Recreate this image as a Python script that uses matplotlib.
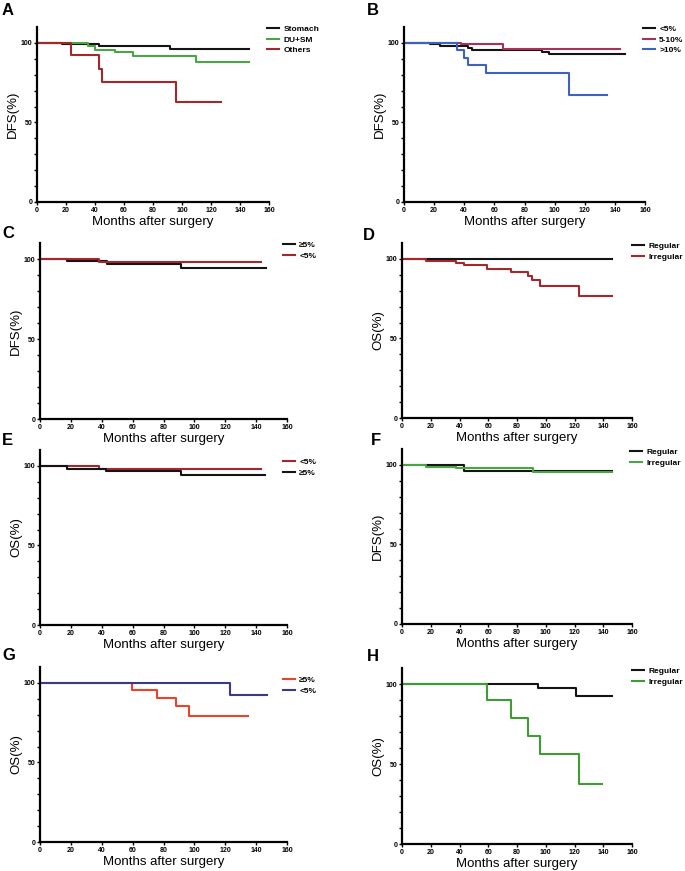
import numpy as np
from matplotlib import pyplot as plt

plt.rcParams['font.family'] = ['Liberation Sans', 'DejaVu Sans']

# ---- data (event times in months, survival % after each step, last follow-up) ----
# A: DFS by site
a_names = ['Stomach', 'DU+SM', 'Others']
a_times = [[17, 38, 43, 92], [35, 40, 54, 66, 109.5], [23.3, 42.7, 44.5, 95.7]]
a_surv = [[99.5, 99.0, 97.9, 96.2], [98.2, 95.8, 94.0, 91.6, 88.3], [92.5, 83.9, 75.7, 63.0]]
a_end = [146.5, 146.5, 127]

# B: DFS by proportion
b_names = ['<5%', '5-10%', '>10%']
b_times = [[17, 24, 42.7, 45, 91.4, 96], [38, 66], [35, 40, 42.7, 54.2, 109.8]]
b_surv = [[99.3, 97.9, 96.9, 95.6, 94.4, 92.9], [99.0, 96.2], [95.4, 90.6, 86.2, 81.2, 67.4]]
b_end = [146.7, 143.4, 135]

# C: DFS by Ki-67
c_names = ['≥5%', '<5%']
c_times = [[17.3, 43.2, 91.5], [38.3]]
c_surv = [[98.5, 96.9, 94.4], [98.3]]
c_end = [146.4, 143.4]

# D: OS by margin
d_names = ['Regular', 'Irregular']
d_times = [[], [16.9, 37.7, 43.2, 59, 75.6, 87.4, 90.6, 96, 123.2]]
d_surv = [[], [98.9, 97.7, 96.0, 93.9, 91.8, 89.3, 86.8, 83.1, 76.8]]
d_end = [146, 146]

# E: OS by Ki-67
e_names = ['<5%', '≥5%']
e_times = [[38], [17.3, 43, 91.2]]
e_surv = [[98.3], [98.3, 96.7, 94.6]]
e_end = [143, 146]

# F: DFS by margin
f_names = ['Regular', 'Irregular']
f_times = [[43.2], [17, 37.5, 91.3]]
f_surv = [[96.2], [99.0, 98.2, 95.8]]
f_end = [146, 146]

# G: OS by Ki-67
g_names = ['≥5%', '<5%']
g_times = [[59.5, 75.7, 88, 96.6], [123.2]]
g_surv = [[95.8, 90.8, 85.6, 79.1], [92.3]]
g_end = [135, 147]

# H: OS by margin
h_names = ['Regular', 'Irregular']
h_times = [[94.3, 120.7], [59, 75.6, 87.9, 96, 122.8]]
h_surv = [[97.7, 92.3], [90.0, 78.9, 67.6, 56.4, 37.6]]
h_end = [146, 139]

BLACK = '#141414'
DRED = '#a3282c'

panels = [
    # letter, ylabel, names, times, surv, end, colors, axes px (l, r, top, bottom), legend px (x, y), letter px
    ('A', 'DFS(%)', a_names, a_times, a_surv, a_end, [BLACK, '#4aa544', DRED],
     (37, 269, 27, 202), (267, 25), (2, 3)),
    ('B', 'DFS(%)', b_names, b_times, b_surv, b_end, [BLACK, '#a8305c', '#3c62c2'],
     (404, 645, 27, 202), (643, 25), (367, 3)),
    ('C', 'DFS(%)', c_names, c_times, c_surv, c_end, [BLACK, DRED],
     (40, 287, 243, 419), (283, 241), (2, 226)),
    ('D', 'OS(%)', d_names, d_times, d_surv, d_end, [BLACK, DRED],
     (402, 632, 243, 418), (632, 242), (363, 228)),
    ('E', 'OS(%)', e_names, e_times, e_surv, e_end, [DRED, BLACK],
     (40, 287, 450, 625), (283, 458), (2, 433)),
    ('F', 'DFS(%)', f_names, f_times, f_surv, f_end, [BLACK, '#4aa544'],
     (402, 632, 449, 624), (630, 448), (371, 433)),
    ('G', 'OS(%)', g_names, g_times, g_surv, g_end, ['#e8442c', '#3a3a8c'],
     (40, 287, 667, 842), (283, 676), (2, 648)),
    ('H', 'OS(%)', h_names, h_times, h_surv, h_end, [BLACK, '#3f9c35'],
     (402, 632, 668, 844), (632, 667), (367, 649)),
]

W, H = 685, 871
fig = plt.figure(figsize=(W / 100, H / 100), dpi=100)

for letter, ylab, names, times, surv, ends, colors, box, leg, lpos in panels:
    l, r, t, b = box
    ax = fig.add_axes([l / W, 1 - b / H, (r - l) / W, (b - t) / H])
    for name, tt, ss, end, col in zip(names, times, surv, ends, colors):
        x = [0] + list(tt) + [end]
        y = [100] + list(ss) + [ss[-1] if ss else 100]
        ax.step(x, y, where='post', color=col, lw=1.5, label=name)

    ax.set_xlim(0, 160)
    ax.set_ylim(0, 110)
    ax.spines['top'].set_visible(False)
    ax.spines['right'].set_visible(False)
    ax.spines['left'].set_linewidth(1.6)
    ax.spines['bottom'].set_linewidth(1.6)

    ax.set_xticks(range(0, 161, 20))
    yt = list(range(0, 101, 10))
    ax.set_yticks(yt, [str(v) if v % 50 == 0 else '' for v in yt])
    ax.tick_params(length=2.5, width=1.0, pad=1, labelsize=5)
    for lab in ax.get_xticklabels() + ax.get_yticklabels():
        lab.set_fontweight('bold')

    ax.set_xlabel('Months after surgery', fontsize=9.5, labelpad=1.5)
    ax.set_ylabel(ylab, fontsize=9.5, labelpad=1)

    ax.legend(loc='upper left', bbox_to_anchor=(leg[0] / W, 1 - leg[1] / H),
              bbox_transform=fig.transFigure, frameon=False,
              handlelength=1.45, handletextpad=0.5, labelspacing=0.35,
              borderpad=0, borderaxespad=0, prop={'weight': 'bold', 'size': 6})

    fig.text(lpos[0] / W, 1 - lpos[1] / H, letter, fontsize=12, fontweight='bold',
             ha='left', va='top')

fig.savefig('out.png', dpi=100)
